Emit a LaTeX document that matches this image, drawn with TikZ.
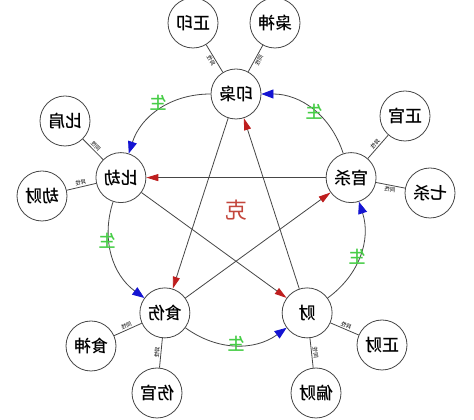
\documentclass[tikz,border=0pt]{standalone}
\usepackage{fontspec}
\usepackage{graphicx}
\newfontfamily\cjk{Noto Sans CJK SC}
\newfontfamily\cjkb{Noto Sans CJK SC Medium}
\usetikzlibrary{arrows.meta,calc}
\definecolor{lc}{RGB}{70,70,70}
\definecolor{bl}{RGB}{20,20,210}
\definecolor{rd}{RGB}{190,30,30}
\definecolor{gr}{RGB}{70,205,70}
\definecolor{kr}{RGB}{195,70,60}
\newcommand{\mr}[1]{\reflectbox{#1}}
\tikzset{
  ball/.style={circle,draw=lc,line width=0.8pt,minimum size=50pt,inner sep=0pt,fill=white,
    font=\cjkb\fontsize{17}{17}\selectfont},
  link/.style={draw=lc,line width=0.8pt},
  sheng/.style={link,-{Triangle[length=12pt,width=9pt,color=bl]}},
  kearrow/.style={link,-{Triangle[length=12pt,width=7pt,color=rd]}},
  lab/.style={font=\cjk\fontsize{5.5}{5.5}\selectfont,inner sep=1pt,sloped},
  shengtxt/.style={text=gr,font=\cjkb\fontsize{17}{17}\selectfont},
}
\begin{document}
\begin{tikzpicture}[x=1pt,y=1pt]
\useasboundingbox[fill=white] (0,0) rectangle (474,420);
\coordinate (C) at (236,205);
% main nodes
\node[ball] (yx) at ($(C)+(90:121)$) {\mr{印枭}};
\node[ball] (bj) at ($(C)+(162:121)$) {\mr{比劫}};
\node[ball] (ss) at ($(C)+(234:121)$) {\mr{食伤}};
\node[ball] (cai) at ($(C)+(306:121)$) {\mr{财}};
\node[ball] (gs) at ($(C)+(18:121)$) {\mr{官杀}};
% outer nodes
\node[ball] (zy) at (193,397) {\mr{正印}};
\node[ball] (xs) at (275,397) {\mr{枭神}};
\node[ball] (bjian) at (65,299) {\mr{比肩}};
\node[ball] (jc) at (42,224) {\mr{劫财}};
\node[ball] (zg) at (405,304) {\mr{正官}};
\node[ball] (qs) at (430,227) {\mr{七杀}};
\node[ball] (shen) at (91,74) {\mr{食神}};
\node[ball] (sg) at (157,27) {\mr{伤官}};
\node[ball] (zc) at (382,75) {\mr{正财}};
\node[ball] (pc) at (316,27) {\mr{偏财}};
% generation arcs
\draw[sheng] (gs) to[bend right=36] (yx);
\draw[sheng] (yx) to[bend right=36] (bj);
\draw[sheng] (bj) to[bend right=36] (ss);
\draw[sheng] (ss) to[bend right=36] (cai);
\draw[sheng] (cai) to[bend right=36] (gs);
% control star
\draw[kearrow] (gs) -- (bj);
\draw[kearrow] (ss) -- (gs);
\draw[kearrow] (yx) -- (ss);
\draw[kearrow] (bj) -- (cai);
\draw[kearrow] (cai) -- (yx);
% outer links
\draw[link] (yx) -- node[lab,below] {\mr{异性}} (zy);
\draw[link] (yx) -- node[lab,below] {\mr{同性}} (xs);
\draw[link] (bj) -- node[lab,above] {\mr{同性}} (bjian);
\draw[link] (bj) -- node[lab,above] {\mr{异性}} (jc);
\draw[link] (gs) -- node[lab,above] {\mr{异性}} (zg);
\draw[link] (gs) -- node[lab,below] {\mr{同性}} (qs);
\draw[link] (ss) -- node[lab,above] {\mr{同性}} (shen);
\draw[link] (ss) -- node[lab,above] {\mr{异性}} (sg);
\draw[link] (cai) -- node[lab,above] {\mr{异性}} (zc);
\draw[link] (cai) -- node[lab,above] {\mr{同性}} (pc);
% labels
\node[shengtxt] (s1) at (158,317) {\mr{生}};
\node[shengtxt] (s2) at (314,308) {\mr{生}};
\node[shengtxt] (s3) at (107,179) {\mr{生}};
\node[shengtxt] (s4) at (357,163) {\mr{生}};
\node[shengtxt] (s5) at (236,76) {\mr{生}};
\node[text=kr,font=\cjk\fontsize{22}{22}\selectfont] (ke) at (236,210) {\mr{克}};
\end{tikzpicture}
\end{document}
